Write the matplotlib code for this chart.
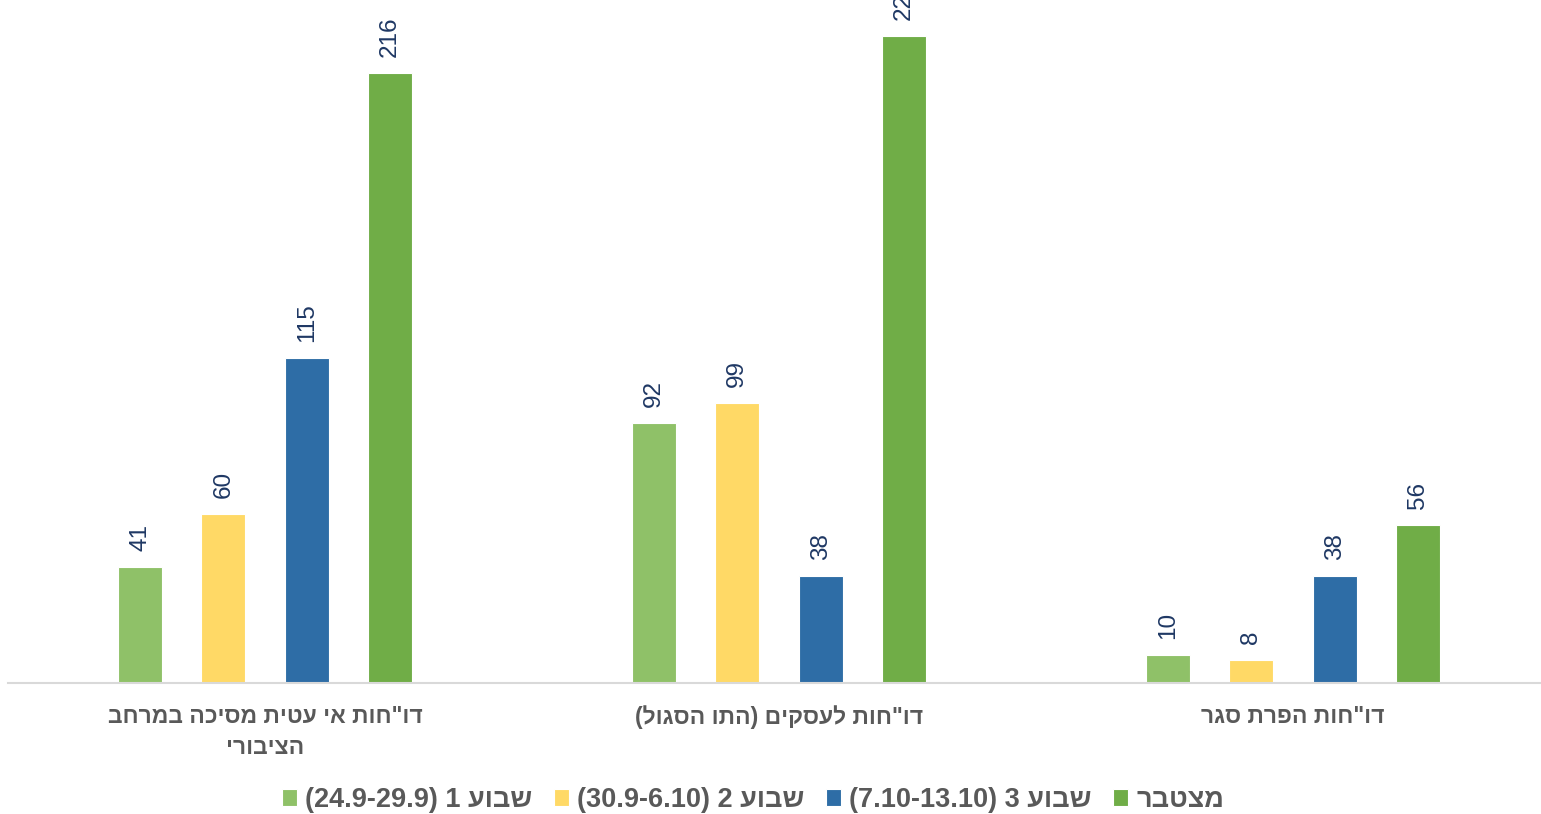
import matplotlib
matplotlib.use("Agg")
import matplotlib.pyplot as plt
import numpy as np
import re

categories = ['דו"חות אי עטית מסיכה במרחב\nהציבורי', 'דו"חות לעסקים (התו הסגול)', 'דו"חות הפרת סגר']
series_names = ['שבוע 1 (24.9-29.9)', 'שבוע 2 (30.9-6.10)', 'שבוע 3 (7.10-13.10)', 'מצטבר']
week1 = [41, 92, 10]
week2 = [60, 99, 8]
week3 = [115, 38, 38]
cumulative = [216, 229, 56]
colors = ['#8FC168', '#FFD966', '#2E6DA6', '#70AD47']

MIRROR = {'(': ')', ')': '(', '[': ']', ']': '['}


def visual(s):
    """Simple RTL reordering for display: reverse, keep LTR runs intact."""
    out_lines = []
    for line in s.split('\n'):
        tokens = re.findall(r'[0-9A-Za-z][0-9A-Za-z.\-]*[0-9A-Za-z]|[0-9A-Za-z]|.', line)
        tokens = [MIRROR.get(t, t) for t in reversed(tokens)]
        out_lines.append(''.join(tokens))
    return '\n'.join(out_lines)


data = [week1, week2, week3, cumulative]

fig = plt.figure(figsize=(15.41, 8.14), dpi=100)
ax = fig.add_axes([8 / 1541, (814 - 683) / 814, 1542 / 1541, 683 / 814])

x = np.arange(len(categories))
offset = 0.162
width = 0.0856
for i, (vals, col) in enumerate(zip(data, colors)):
    pos = x + (i - 1.5) * offset
    bars = ax.bar(pos, vals, width=width, color=col, edgecolor='white', linewidth=0.8,
                  label=visual(series_names[i]), zorder=2)
    for b, v in zip(bars, vals):
        ax.annotate(str(v), (b.get_x() + b.get_width() / 2, v), xytext=(0, 11.5),
                    textcoords='offset points', ha='center', va='bottom', rotation=90,
                    fontsize=17.5, color='#1F3864', family=['Liberation Sans', 'DejaVu Sans'],
                    annotation_clip=False)

ax.set_xlim(-0.5, 2.5)
ax.set_ylim(0, 683 / 2.824)
ax.set_yticks([])
ax.set_xticks(x)
ax.set_xticklabels([visual(c) for c in categories], fontsize=16.5, fontweight='bold',
                   color='#595959', family=['Liberation Sans', 'DejaVu Sans'], linespacing=1.45)
ax.tick_params(axis='x', length=0, pad=16)
for s in ['top', 'right', 'left']:
    ax.spines[s].set_visible(False)
ax.spines['bottom'].set_color('#D9D9D9')
ax.spines['bottom'].set_linewidth(1.5)

leg = fig.legend(loc='center', bbox_to_anchor=(753 / 1541, 14 / 814), ncol=4, frameon=False,
                 prop={'family': ['Liberation Sans Narrow', 'Liberation Sans', 'DejaVu Sans'],
                       'weight': 'bold', 'size': 19.5},
                 handlelength=0.55, handleheight=0.55, handletextpad=0.3, columnspacing=0.8)
for t in leg.get_texts():
    t.set_color('#595959')

fig.savefig('out.png', dpi=100)
